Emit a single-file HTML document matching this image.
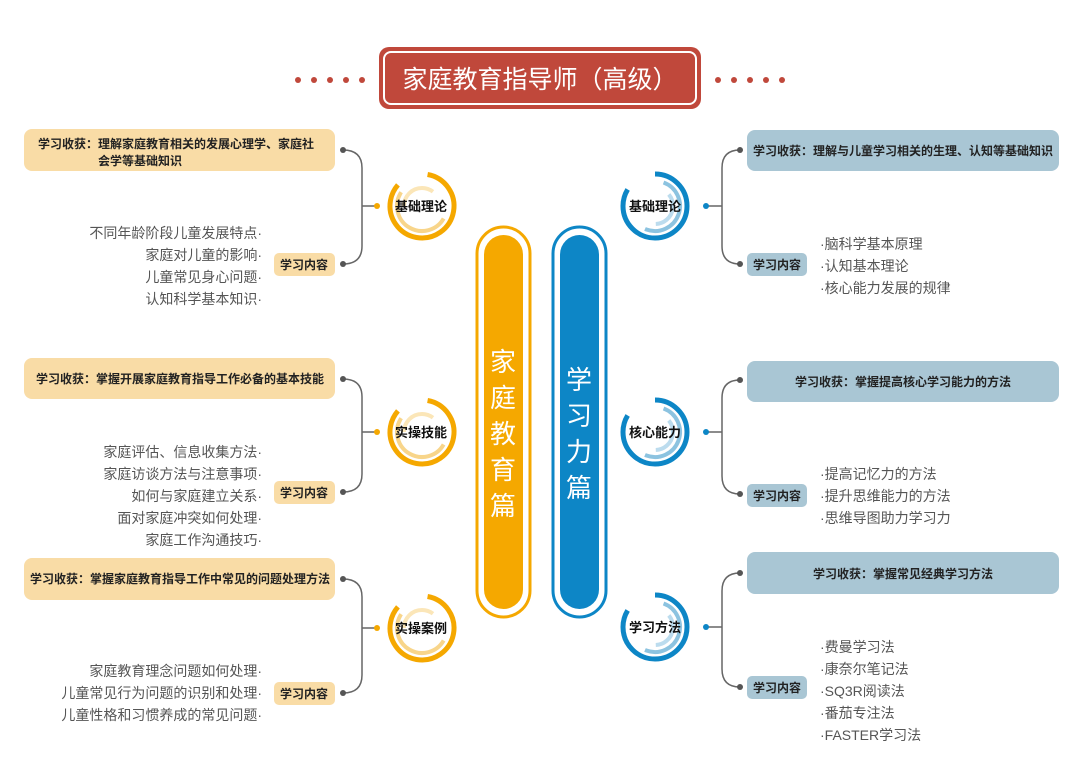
<!DOCTYPE html>
<html><head><meta charset="utf-8"><style>
html,body{margin:0;padding:0;background:#fff;}
svg{display:block;font-family:"Liberation Sans","Noto Sans CJK SC",sans-serif;}
.b{font-size:12px;font-weight:bold;fill:#222;}
.t{font-size:12px;font-weight:bold;fill:#222;}
.l{font-size:14px;fill:#555;}
.c{font-size:13px;font-weight:bold;fill:#111;}
</style></head><body>
<svg width="1080" height="763" viewBox="0 0 1080 763" xmlns="http://www.w3.org/2000/svg">
<g fill="#c0483b">
<circle cx="298" cy="80" r="3"/><circle cx="314" cy="80" r="3"/><circle cx="330" cy="80" r="3"/><circle cx="346" cy="80" r="3"/><circle cx="362" cy="80" r="3"/>
<circle cx="718" cy="80" r="3"/><circle cx="734" cy="80" r="3"/><circle cx="750" cy="80" r="3"/><circle cx="766" cy="80" r="3"/><circle cx="782" cy="80" r="3"/>
</g>
<rect x="379" y="47" width="322" height="62" rx="10" fill="#c0483b"/>
<rect x="384" y="52" width="312" height="52" rx="7" fill="none" stroke="#fff" stroke-width="2"/>
<text x="540" y="88" text-anchor="middle" font-size="25" fill="#fff">家庭教育指导师（高级）</text>

<rect x="477" y="227" width="53" height="390" rx="26.5" fill="#fff" stroke="#f5a800" stroke-width="3"/>
<rect x="484" y="235" width="39" height="374" rx="19.5" fill="#f5a800"/>
<rect x="553" y="227" width="53" height="390" rx="26.5" fill="#fff" stroke="#0d86c6" stroke-width="3"/>
<rect x="560" y="235" width="39" height="374" rx="19.5" fill="#0d86c6"/>
<g font-size="26" fill="#fff" text-anchor="middle">
<text x="503" y="371">家</text><text x="503" y="407">庭</text><text x="503" y="443">教</text><text x="503" y="479">育</text><text x="503" y="515">篇</text>
<text x="579" y="389">学</text><text x="579" y="425">习</text><text x="579" y="461">力</text><text x="579" y="497">篇</text>
</g>

<g fill="#f9dca6">
<rect x="24" y="129" width="311" height="42" rx="8"/>
<rect x="24" y="358" width="311" height="41" rx="8"/>
<rect x="24" y="558" width="311" height="42" rx="8"/>
<rect x="274" y="253" width="61" height="23" rx="5"/>
<rect x="274" y="481" width="61" height="23" rx="5"/>
<rect x="274" y="682" width="61" height="23" rx="5"/>
</g>
<text class="b" x="38" y="148">学习收获：理解家庭教育相关的发展心理学、家庭社</text>
<text class="b" x="98" y="165">会学等基础知识</text>
<text class="b" x="180" y="383" text-anchor="middle">学习收获：掌握开展家庭教育指导工作必备的基本技能</text>
<text class="b" x="180" y="583" text-anchor="middle">学习收获：掌握家庭教育指导工作中常见的问题处理方法</text>
<text class="t" x="304" y="269" text-anchor="middle">学习内容</text>
<text class="t" x="304" y="497" text-anchor="middle">学习内容</text>
<text class="t" x="304" y="698" text-anchor="middle">学习内容</text>
<g class="l" text-anchor="end">
<text x="262" y="238">不同年龄阶段儿童发展特点·</text>
<text x="262" y="260">家庭对儿童的影响·</text>
<text x="262" y="282">儿童常见身心问题·</text>
<text x="262" y="304">认知科学基本知识·</text>
<text x="262" y="457">家庭评估、信息收集方法·</text>
<text x="262" y="479">家庭访谈方法与注意事项·</text>
<text x="262" y="501">如何与家庭建立关系·</text>
<text x="262" y="523">面对家庭冲突如何处理·</text>
<text x="262" y="545">家庭工作沟通技巧·</text>
<text x="262" y="676">家庭教育理念问题如何处理·</text>
<text x="262" y="698">儿童常见行为问题的识别和处理·</text>
<text x="262" y="720">儿童性格和习惯养成的常见问题·</text>
</g>

<g fill="#a9c6d4">
<rect x="747" y="130" width="312" height="41" rx="8"/>
<rect x="747" y="361" width="312" height="41" rx="8"/>
<rect x="747" y="552" width="312" height="42" rx="8"/>
<rect x="747" y="253" width="60" height="23" rx="5"/>
<rect x="747" y="484" width="60" height="23" rx="5"/>
<rect x="747" y="676" width="60" height="23" rx="5"/>
</g>
<text class="b" x="903" y="155" text-anchor="middle">学习收获：理解与儿童学习相关的生理、认知等基础知识</text>
<text class="b" x="903" y="386" text-anchor="middle">学习收获：掌握提高核心学习能力的方法</text>
<text class="b" x="903" y="578" text-anchor="middle">学习收获：掌握常见经典学习方法</text>
<text class="t" x="777" y="269" text-anchor="middle">学习内容</text>
<text class="t" x="777" y="500" text-anchor="middle">学习内容</text>
<text class="t" x="777" y="692" text-anchor="middle">学习内容</text>
<g class="l">
<text x="820" y="249">·脑科学基本原理</text>
<text x="820" y="271">·认知基本理论</text>
<text x="820" y="293">·核心能力发展的规律</text>
<text x="820" y="479">·提高记忆力的方法</text>
<text x="820" y="501">·提升思维能力的方法</text>
<text x="820" y="523">·思维导图助力学习力</text>
<text x="820" y="652">·费曼学习法</text>
<text x="820" y="674">·康奈尔笔记法</text>
<text x="820" y="696">·SQ3R阅读法</text>
<text x="820" y="718">·番茄专注法</text>
<text x="820" y="740">·FASTER学习法</text>
</g>

<g fill="none" stroke="#666" stroke-width="1.5">
<path d="M343 150 Q362 150 362 168 L362 246 Q362 264 343 264"/>
<path d="M343 379 Q362 379 362 397 L362 474 Q362 492 343 492"/>
<path d="M343 579 Q362 579 362 597 L362 675 Q362 693 343 693"/>
<path d="M362 206 H377 M362 432 H377 M362 628 H377"/>
<path d="M740 150 Q722 150 722 168 L722 246 Q722 264 740 264"/>
<path d="M740 380 Q722 380 722 398 L722 476 Q722 494 740 494"/>
<path d="M740 573 Q722 573 722 591 L722 669 Q722 687 740 687"/>
<path d="M722 206 H706 M722 432 H706 M722 627 H706"/>
</g>
<g fill="#555">
<circle cx="343" cy="150" r="3"/><circle cx="343" cy="264" r="3"/>
<circle cx="343" cy="379" r="3"/><circle cx="343" cy="492" r="3"/>
<circle cx="343" cy="579" r="3"/><circle cx="343" cy="693" r="3"/>
<circle cx="740" cy="150" r="3"/><circle cx="740" cy="264" r="3"/>
<circle cx="740" cy="380" r="3"/><circle cx="740" cy="494" r="3"/>
<circle cx="740" cy="573" r="3"/><circle cx="740" cy="687" r="3"/>
</g>
<g fill="#f5a800"><circle cx="377" cy="206" r="3"/><circle cx="377" cy="432" r="3"/><circle cx="377" cy="628" r="3"/></g>
<g fill="#0d86c6"><circle cx="706" cy="206" r="3"/><circle cx="706" cy="432" r="3"/><circle cx="706" cy="627" r="3"/></g>

<defs>
<g id="lc" fill="none">
<circle r="32" stroke="#f5a800" stroke-width="5" stroke-dasharray="168 33" transform="rotate(-80)"/>
<circle r="25" stroke="#f8d58a" stroke-width="4" stroke-dasharray="80 77" transform="rotate(30)"/>
<circle r="18" stroke="#fbe6b8" stroke-width="4" stroke-dasharray="40 73" transform="rotate(180)"/>
</g>
<g id="rc" fill="none">
<circle r="32" stroke="#0d86c6" stroke-width="5" stroke-dasharray="168 33" transform="rotate(-90)"/>
<circle r="25" stroke="#8cc3e0" stroke-width="4" stroke-dasharray="80 77" transform="rotate(-70)"/>
<circle r="18" stroke="#bcdcee" stroke-width="4" stroke-dasharray="40 73" transform="rotate(-40)"/>
</g>
</defs>
<use href="#lc" x="422" y="206"/><use href="#lc" x="422" y="432"/><use href="#lc" x="422" y="628"/>
<use href="#rc" x="655" y="206"/><use href="#rc" x="655" y="432"/><use href="#rc" x="655" y="627"/>
<g class="c" text-anchor="middle">
<text x="421" y="211">基础理论</text><text x="421" y="437">实操技能</text><text x="421" y="633">实操案例</text>
<text x="655" y="211">基础理论</text><text x="655" y="437">核心能力</text><text x="655" y="632">学习方法</text>
</g>
</svg>
</body></html>
